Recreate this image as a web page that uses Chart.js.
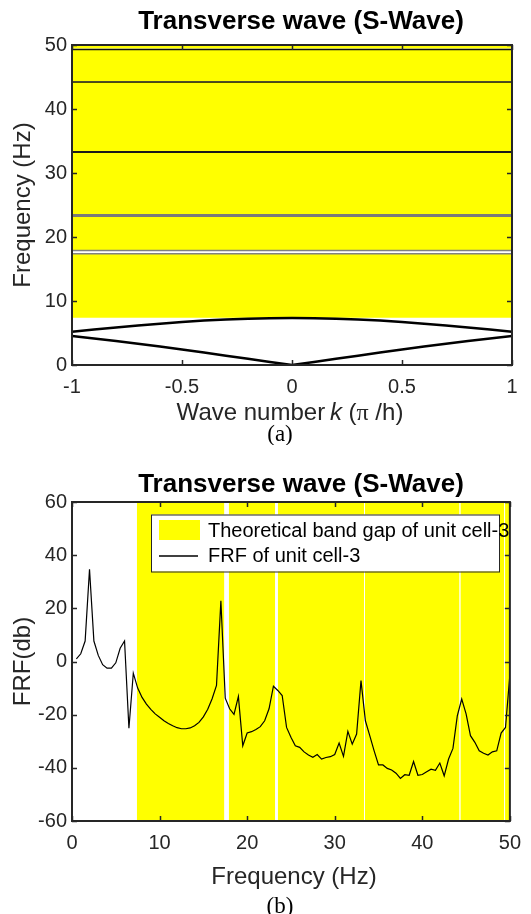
<!DOCTYPE html>
<html><head><meta charset="utf-8">
<script src="https://cdn.jsdelivr.net/npm/chart.js@4.4.0/dist/chart.umd.min.js"></script>
<style>
html,body{margin:0;padding:0;background:#fff;}
#w{position:relative;width:531px;height:914px;overflow:hidden;background:#fff;}
#c1{position:absolute;left:0;top:0;}
#c2{position:absolute;left:0;top:445px;}
</style></head><body>
<div id="w"><canvas id="c1" width="531" height="445"></canvas><canvas id="c2" width="531" height="469"></canvas></div>
<script>
// ---------- data ----------
const waveK = [-1,-0.9,-0.8,-0.7,-0.6,-0.5,-0.4,-0.3,-0.2,-0.1,0,0.1,0.2,0.3,0.4,0.5,0.6,0.7,0.8,0.9,1];
const branch1 = [4.53,4.14,3.74,3.32,2.88,2.42,1.94,1.45,0.97,0.48,0,0.48,0.97,1.45,1.94,2.42,2.88,3.32,3.74,4.14,4.53];
const branch2 = [5.2,5.54,5.86,6.18,6.46,6.72,6.94,7.12,7.24,7.32,7.35,7.32,7.24,7.12,6.94,6.72,6.46,6.18,5.86,5.54,5.2];
const flatBranchFreq = [17.4, 17.9, 23.35, 33.3, 44.2, 49.3];
const gapStart = [7.4, 17.9, 23.5, 33.45, 44.35, 49.45];
const gapEnd   = [17.4, 23.2, 33.35, 44.25, 49.35, 50];
const frfFreq = [0.5,1,1.5,2,2.5,3,3.5,4,4.5,5,5.5,6,6.5,7,7.5,8,8.5,9,9.5,10,10.5,11,11.5,12,12.5,13,13.5,14,14.5,15,15.5,16,16.5,17,17.5,18,18.5,19,19.5,20,20.5,21,21.5,22,22.5,23,23.5,24,24.5,25,25.5,26,26.5,27,27.5,28,28.5,29,29.5,30,30.5,31,31.5,32,32.5,33,33.5,34,34.5,35,35.5,36,36.5,37,37.5,38,38.5,39,39.5,40,40.5,41,41.5,42,42.5,43,43.5,44,44.5,45,45.5,46,46.5,47,47.5,48,48.5,49,49.5,50];
const frfDb = [1.0,2.9,7.7,34.7,7.7,2.3,-1.2,-2.5,-2.5,-0.5,5,7.7,-25.1,-4.4,-10,-13.5,-16,-18,-19.7,-21,-22.3,-23.3,-24.2,-24.9,-25.3,-25.3,-25,-24.2,-22.9,-20.8,-18,-14,-9,22.8,-13.8,-17.8,-19.9,-13.1,-31.7,-26.9,-26.4,-25.6,-24.5,-22.3,-17.8,-9.3,-10.9,-12.8,-24.8,-28.5,-31.7,-32.3,-34,-35.2,-36,-35,-36.7,-36.1,-35.8,-35,-30.7,-35.7,-26.3,-31.1,-27.3,-7.2,-22.3,-27.9,-33.6,-38.9,-38.9,-40.2,-40.8,-42,-44,-42.6,-42.8,-37.6,-42.8,-42.5,-41.5,-40.5,-40.9,-38.2,-43,-36.7,-32.7,-20.4,-14.1,-19.7,-27.9,-30.4,-33.6,-34.5,-35.2,-34,-33.6,-26.9,-24.8,-5];
const kTicks = [-1,-0.5,0,0.5,1];
const freqTicks = [0,10,20,30,40,50];
const dbTicks = [-60,-40,-20,0,20,40,60];
const legendLabels = ['Theoretical band gap of unit cell-3','FRF of unit cell-3'];

// ---------- styling ----------
const SANS = '"Liberation Sans", Arial, Helvetica, sans-serif';
const SERIF = '"Liberation Serif", "Times New Roman", serif';
const INK = '#262626';
const YEL = '#ffff00';

const matlabAxes = {
  id: 'matlabAxes',
  afterDatasetsDraw(chart, args, o) {
    const {ctx, chartArea: a, scales: {x, y}} = chart;
    ctx.save();
    ctx.strokeStyle = INK; ctx.lineWidth = 1.5;
    ctx.beginPath();
    x.ticks.forEach(t => { const p = Math.round(x.getPixelForValue(t.value)) + 0.5;
      ctx.moveTo(p, a.bottom); ctx.lineTo(p, a.bottom - 5); ctx.moveTo(p, a.top); ctx.lineTo(p, a.top + 5); });
    y.ticks.forEach(t => { const p = Math.round(y.getPixelForValue(t.value)) + 0.5;
      ctx.moveTo(a.left, p); ctx.lineTo(a.left + 5, p); ctx.moveTo(a.right, p); ctx.lineTo(a.right - 5, p); });
    ctx.stroke();
    ctx.lineWidth = 2;
    ctx.strokeRect(a.left, a.top, a.right - a.left, a.bottom - a.top);
    ctx.restore();
  },
  afterDraw(chart, args, o) {
    const {ctx, chartArea: a} = chart;
    ctx.save();
    ctx.fillStyle = '#000';
    ctx.textAlign = 'center'; ctx.textBaseline = 'alphabetic';
    ctx.font = 'bold 26px ' + SANS;
    ctx.fillText(o.title, 301, o.titleY);
    ctx.fillStyle = INK;
    ctx.font = '24px ' + SANS;
    if (o.xTitleParts) {
      let total = 0;
      o.xTitleParts.forEach(p => { ctx.font = p.font; total += ctx.measureText(p.t).width; });
      let cx = o.xTitleX - total / 2;
      ctx.textAlign = 'left';
      o.xTitleParts.forEach(p => { ctx.font = p.font; ctx.fillText(p.t, cx, o.xTitleY); cx += ctx.measureText(p.t).width; });
    } else {
      ctx.fillText(o.xTitle, o.xTitleX, o.xTitleY);
    }
    ctx.textAlign = 'center';
    ctx.font = '24px ' + SANS;
    ctx.save();
    ctx.translate(o.yTitleX, (a.top + a.bottom) / 2);
    ctx.rotate(-Math.PI / 2);
    ctx.fillText(o.yTitle, 0, 0);
    ctx.restore();
    ctx.fillStyle = '#000';
    ctx.font = '23px ' + SERIF;
    ctx.fillText(o.caption, 280, o.captionY);
    if (o.legend) {
      const L = a.left + 79, T = a.top + 12.5, W = 348, H = 57;
      ctx.fillStyle = '#fff'; ctx.fillRect(L, T, W, H);
      ctx.strokeStyle = INK; ctx.lineWidth = 1; ctx.strokeRect(L + 0.5, T + 0.5, W, H);
      const ds = chart.data.datasets;
      const bandDs = ds.find(d => d.label === legendLabels[0]);
      const lineDs = ds.find(d => d.label === legendLabels[1]);
      ctx.fillStyle = bandDs.backgroundColor; ctx.fillRect(L + 8, T + 5.5, 41, 20);
      ctx.strokeStyle = lineDs.borderColor; ctx.lineWidth = 1.5;
      ctx.beginPath(); ctx.moveTo(L + 8, T + 41.5); ctx.lineTo(L + 47, T + 41.5); ctx.stroke();
      ctx.fillStyle = '#000'; ctx.font = '20px ' + SANS; ctx.textAlign = 'left'; ctx.textBaseline = 'middle';
      ctx.fillText(legendLabels[0], L + 57, T + 16.5);
      ctx.fillText(legendLabels[1], L + 57, T + 42);
    }
    ctx.restore();
  }
};

function scaleCommon(ticksArr, min, max, isY, fitSize) {
  return {
    type: 'linear', min, max,
    grid: {display: false, drawTicks: false},
    border: {display: false},
    afterBuildTicks: s => { s.ticks = ticksArr.map(v => ({value: v})); },
    afterFit: s => { if (isY) s.width = fitSize; else s.height = fitSize; },
    ticks: {color: INK, font: {family: SANS, size: 20}, padding: isY ? 5 : 10, maxRotation: 0, autoSkip: false,
            callback: v => String(v)}
  };
}

// ---------- chart 1: dispersion ----------
const ds1 = [];
gapStart.forEach((s, i) => {
  ds1.push({label: 'band' + i, data: [{x: -1, y: gapEnd[i]}, {x: 1, y: gapEnd[i]}],
    borderWidth: 0, pointRadius: 0, backgroundColor: YEL, fill: {value: s}, order: 10});
});
const flatStyles = [
  {c: '#808080', w: 1.5}, {c: '#808080', w: 1.5}, {c: '#7a7a7a', w: 3},
  {c: '#1a1a1a', w: 2}, {c: '#111', w: 1.5}, {c: '#111', w: 1.5}
];
flatBranchFreq.forEach((f, i) => {
  ds1.push({label: 'flat' + i, data: [{x: -1, y: f}, {x: 1, y: f}],
    borderColor: flatStyles[i].c, borderWidth: flatStyles[i].w, pointRadius: 0, fill: false, order: 1});
});
ds1.push({label: 'b1', data: waveK.map((k, i) => ({x: k, y: branch1[i]})), borderColor: '#000', borderWidth: 2.5, pointRadius: 0, fill: false, order: 0});
ds1.push({label: 'b2', data: waveK.map((k, i) => ({x: k, y: branch2[i]})), borderColor: '#000', borderWidth: 2.5, pointRadius: 0, fill: false, order: 0});

new Chart(document.getElementById('c1'), {
  type: 'line',
  data: {datasets: ds1},
  options: {
    responsive: false, animation: false, devicePixelRatio: 1,
    layout: {padding: {left: 0, right: 19, top: 45, bottom: 0}},
    plugins: {legend: {display: false}, tooltip: {enabled: false},
      matlabAxes: {title: 'Transverse wave (S-Wave)', titleY: 29,
        xTitleParts: [{t: 'Wave number\u2009', font: '24px ' + SANS}, {t: 'k', font: 'italic 24px ' + SANS}, {t: ' (', font: '24px ' + SANS}, {t: 'π', font: '24px ' + SERIF}, {t: ' /h)', font: '24px ' + SANS}],
        xTitleX: 290, xTitleY: 420, yTitle: 'Frequency (Hz)', yTitleX: 30, caption: '(a)', captionY: 441}},
    scales: {x: scaleCommon(kTicks, -1, 1, false, 80), y: scaleCommon(freqTicks, 0, 50, true, 72)}
  },
  plugins: [matlabAxes]
});

// ---------- chart 2: FRF ----------
const ds2 = [];
gapStart.forEach((s, i) => {
  ds2.push({label: i === 0 ? legendLabels[0] : 'band' + i, data: [{x: s, y: 60}, {x: gapEnd[i], y: 60}],
    borderWidth: 0, pointRadius: 0, backgroundColor: YEL, fill: 'start', order: 10});
});
ds2.push({label: legendLabels[1], data: frfFreq.map((f, i) => ({x: f, y: frfDb[i]})), borderColor: '#000', borderWidth: 1.2, pointRadius: 0, fill: false, tension: 0, order: 0});

new Chart(document.getElementById('c2'), {
  type: 'line',
  data: {datasets: ds2},
  options: {
    responsive: false, animation: false, devicePixelRatio: 1,
    layout: {padding: {left: 0, right: 19, top: 57, bottom: 0}},
    plugins: {legend: {display: false}, tooltip: {enabled: false},
      matlabAxes: {title: 'Transverse wave (S-Wave)', titleY: 47, xTitle: 'Frequency (Hz)', xTitleX: 294, xTitleY: 439,
        yTitle: 'FRF(db)', yTitleX: 30, caption: '(b)', captionY: 468, legend: true}},
    scales: {x: scaleCommon(freqTicks, 0, 50, false, 93), y: scaleCommon(dbTicks, -60, 60, true, 72)}
  },
  plugins: [matlabAxes]
});
</script>
</body></html>
